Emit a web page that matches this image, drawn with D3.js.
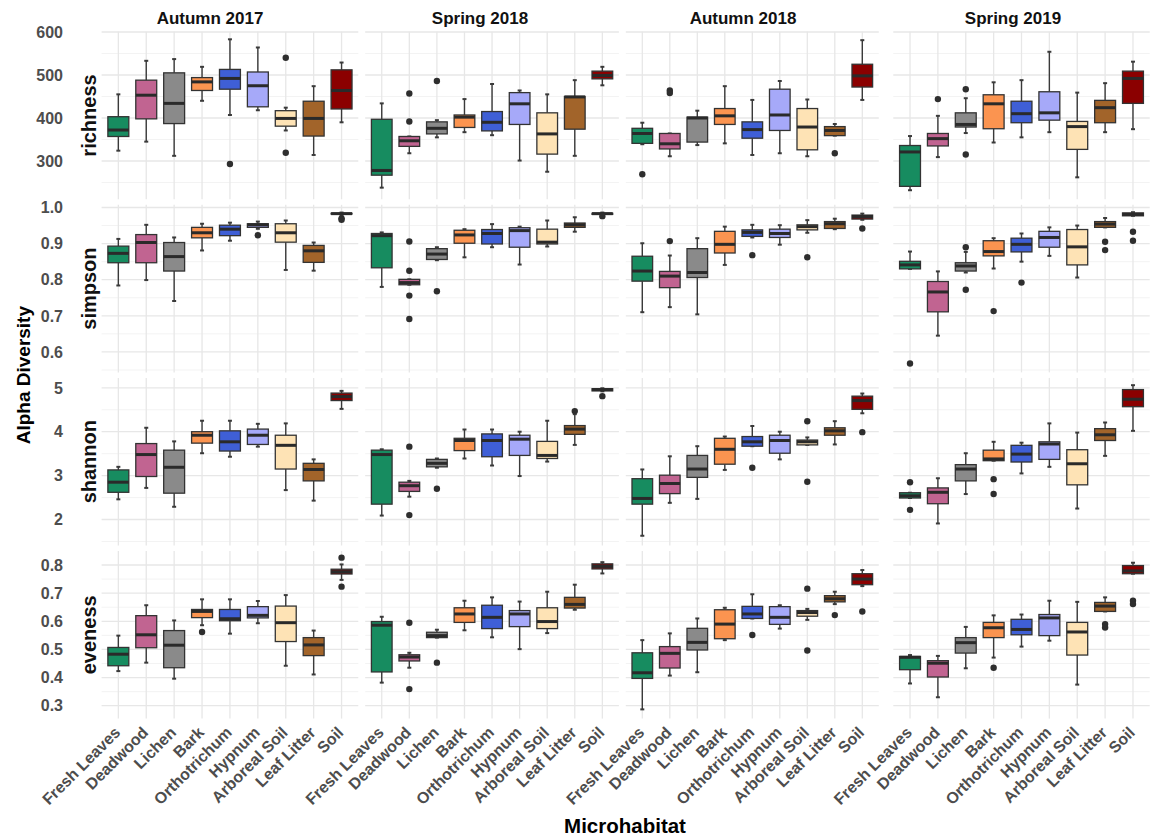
<!DOCTYPE html>
<html>
<head>
<meta charset="utf-8">
<script src="https://cdn.jsdelivr.net/npm/d3@7"></script>
<style>
  body { margin: 0; background: #fff; }
  svg { display: block; }
  text { font-family: "Liberation Sans", Arial, sans-serif; font-weight: bold; }
</style>
</head>
<body>
<svg id="chart" width="1151" height="839"></svg>
<script>
// ---- categories, facets and colours ----
const habitats = ["Fresh Leaves", "Deadwood", "Lichen", "Bark", "Orthotrichum",
                  "Hypnum", "Arboreal Soil", "Leaf Litter", "Soil"];
const seasons = ["Autumn 2017", "Spring 2018", "Autumn 2018", "Spring 2019"];
const metrics = ["richness", "simpson", "shannon", "eveness"];
const habitatColors = ["#178c60", "#c16491", "#8a8a8a", "#fb9450", "#3f5fd6",
                       "#a6a9f9", "#fee3b5", "#a2642a", "#8b0000"];

// ---- y axis breaks per metric ----
const richnessTicks = [300, 400, 500, 600];
const simpsonTicks = [0.6, 0.7, 0.8, 0.9, 1.0];
const shannonTicks = [2, 3, 4, 5];
const evenessTicks = [0.3, 0.4, 0.5, 0.6, 0.7, 0.8];

// ---- y ranges shown per metric ----
const richnessRange = [210.9, 600.7];
const simpsonRange = [0.5432, 1.0075];
const shannonRange = [1.408, 5.226];
const evenessRange = [0.2542, 0.8497];

// ---- box statistics: [lower whisker, Q1, median, Q3, upper whisker, [outliers]] ----
const richnessAut17 = [
  [324, 357, 372, 403, 455, []], [345, 398, 453, 488, 533, []], [312, 387, 434, 505, 537, []],
  [440, 464, 484, 494, 519, []], [407, 467, 492, 513, 583, [293]], [418, 426, 475, 507, 564, []],
  [371, 381, 399, 417, 424, [540, 319]], [314, 358, 399, 439, 474, []], [390, 421, 464, 512, 529, []]];
const richnessSpr18 = [
  [238, 267, 278, 397, 434, []], [318, 334, 347, 357, 357, [457, 392]], [355, 363, 376, 391, 395, [486]],
  [367, 378, 402, 407, 444, []], [360, 370, 390, 415, 479, []], [301, 385, 433, 459, 464, []],
  [275, 316, 363, 412, 455, []], [312, 374, 449, 450, 488, []], [476, 491, 499, 509, 519, []]];
const richnessAut18 = [
  [339, 341, 364, 376, 389, [269]], [311, 328, 340, 364, 364, [464, 458]], [337, 344, 400, 402, 417, []],
  [341, 385, 405, 422, 474, []], [314, 353, 373, 391, 442, []], [318, 371, 407, 467, 486, []],
  [311, 326, 379, 422, 443, []], [359, 359, 371, 380, 386, [318]], [442, 472, 498, 525, 581, []]];
const richnessSpr19 = [
  [232, 241, 321, 336, 358, []], [309, 335, 352, 364, 405, [444]], [365, 379, 385, 412, 446, [467, 315]],
  [343, 375, 433, 454, 483, []], [355, 389, 410, 439, 488, []], [367, 395, 412, 461, 554, []],
  [262, 327, 380, 392, 459, []], [367, 389, 424, 441, 481, []], [374, 434, 492, 509, 531, []]];

const simpsonAut17 = [
  [0.784, 0.847, 0.873, 0.893, 0.913, []], [0.799, 0.847, 0.903, 0.925, 0.952, []],
  [0.741, 0.824, 0.864, 0.903, 0.917, []], [0.881, 0.916, 0.930, 0.945, 0.955, []],
  [0.908, 0.922, 0.940, 0.951, 0.958, []], [0.941, 0.945, 0.952, 0.955, 0.961, [0.923]],
  [0.827, 0.904, 0.930, 0.955, 0.964, []], [0.825, 0.848, 0.880, 0.895, 0.903, []],
  [0.979, 0.982, 0.983, 0.984, 0.986, [0.970, 0.966]]];
const simpsonSpr18 = [
  [0.780, 0.833, 0.922, 0.928, 0.931, []], [0.786, 0.786, 0.792, 0.801, 0.801, [0.906, 0.825, 0.756, 0.691]],
  [0.854, 0.856, 0.871, 0.886, 0.890, [0.768]], [0.862, 0.901, 0.924, 0.937, 0.940, []],
  [0.890, 0.899, 0.928, 0.939, 0.954, []], [0.842, 0.890, 0.936, 0.944, 0.947, []],
  [0.892, 0.899, 0.904, 0.940, 0.964, []], [0.933, 0.945, 0.952, 0.957, 0.973, []],
  [0.979, 0.981, 0.983, 0.984, 0.986, [0.976]]];
const simpsonAut18 = [
  [0.710, 0.796, 0.824, 0.865, 0.901, []], [0.724, 0.778, 0.810, 0.823, 0.867, [0.907]],
  [0.704, 0.806, 0.820, 0.886, 0.915, []], [0.841, 0.874, 0.898, 0.934, 0.947, []],
  [0.917, 0.920, 0.931, 0.938, 0.952, [0.868]], [0.897, 0.917, 0.928, 0.940, 0.951, []],
  [0.930, 0.938, 0.947, 0.952, 0.965, [0.862]], [0.940, 0.942, 0.955, 0.961, 0.969, []],
  [0.966, 0.968, 0.975, 0.979, 0.983, [0.942]]];
const simpsonSpr19 = [
  [0.830, 0.830, 0.841, 0.851, 0.878, [0.568]], [0.645, 0.711, 0.766, 0.795, 0.823, []],
  [0.820, 0.824, 0.838, 0.847, 0.877, [0.890, 0.772]], [0.831, 0.866, 0.878, 0.908, 0.915, [0.713]],
  [0.850, 0.877, 0.898, 0.915, 0.928, [0.792]], [0.866, 0.890, 0.917, 0.934, 0.945, []],
  [0.806, 0.841, 0.891, 0.939, 0.950, []], [0.945, 0.945, 0.954, 0.961, 0.971, [0.905, 0.882]],
  [0.977, 0.977, 0.981, 0.985, 0.987, [0.933, 0.908]]];

const shannonAut17 = [
  [2.46, 2.62, 2.85, 3.13, 3.20, []], [2.72, 2.98, 3.48, 3.73, 4.09, []], [2.29, 2.60, 3.19, 3.58, 3.78, []],
  [3.51, 3.74, 3.92, 4.00, 4.25, []], [3.43, 3.56, 3.77, 4.02, 4.25, []], [3.66, 3.71, 3.92, 4.06, 4.18, []],
  [2.67, 3.15, 3.69, 3.92, 4.19, []], [2.43, 2.88, 3.14, 3.28, 3.37, []], [4.52, 4.71, 4.80, 4.88, 4.93, []]];
const shannonSpr18 = [
  [2.09, 2.35, 3.48, 3.58, 3.60, []], [2.52, 2.64, 2.77, 2.85, 2.88, [3.66, 2.10]],
  [3.18, 3.20, 3.28, 3.37, 3.39, [2.70]], [3.39, 3.57, 3.80, 3.85, 4.05, []],
  [3.23, 3.43, 3.80, 3.95, 4.05, []], [2.99, 3.46, 3.83, 3.92, 4.00, []],
  [3.32, 3.39, 3.46, 3.78, 4.25, []], [3.70, 3.94, 4.06, 4.14, 4.40, [4.47]],
  [4.92, 4.93, 4.96, 4.98, 4.99, [4.81]]];
const shannonAut18 = [
  [1.63, 2.35, 2.48, 2.93, 3.14, []], [2.38, 2.59, 2.82, 3.01, 3.44, []], [2.47, 2.96, 3.15, 3.46, 3.67, []],
  [3.13, 3.26, 3.60, 3.85, 3.89, []], [3.67, 3.67, 3.77, 3.89, 4.13, [3.18]],
  [3.37, 3.51, 3.80, 3.92, 4.00, []], [3.70, 3.70, 3.77, 3.81, 3.87, [4.24, 2.86]],
  [3.71, 3.92, 4.02, 4.09, 4.24, []], [4.42, 4.51, 4.71, 4.81, 4.87, [3.99]]];
const shannonSpr19 = [
  [2.49, 2.49, 2.54, 2.61, 2.61, [2.85, 2.22]], [1.91, 2.36, 2.62, 2.72, 2.94, []],
  [2.58, 2.88, 3.15, 3.25, 3.51, []], [3.34, 3.34, 3.38, 3.58, 3.77, [2.92, 2.58]],
  [3.05, 3.31, 3.49, 3.69, 3.75, []], [3.20, 3.37, 3.72, 3.77, 4.19, []],
  [2.25, 2.79, 3.27, 3.59, 3.98, []], [3.45, 3.80, 3.93, 4.07, 4.21, []],
  [4.02, 4.57, 4.74, 4.96, 5.06, []]];

const evenessAut17 = [
  [0.423, 0.442, 0.483, 0.507, 0.549, []], [0.453, 0.506, 0.552, 0.620, 0.657, []],
  [0.396, 0.435, 0.515, 0.567, 0.603, []], [0.586, 0.613, 0.635, 0.642, 0.678, [0.562]],
  [0.556, 0.602, 0.609, 0.642, 0.678, []], [0.593, 0.612, 0.621, 0.652, 0.672, []],
  [0.442, 0.528, 0.595, 0.654, 0.693, []], [0.411, 0.478, 0.516, 0.542, 0.567, []],
  [0.747, 0.768, 0.776, 0.785, 0.802, [0.826, 0.723]]];
const evenessSpr18 = [
  [0.382, 0.420, 0.586, 0.599, 0.616, []], [0.435, 0.459, 0.473, 0.481, 0.488, [0.595, 0.359]],
  [0.542, 0.542, 0.549, 0.561, 0.570, [0.453]], [0.568, 0.596, 0.626, 0.648, 0.673, []],
  [0.543, 0.574, 0.614, 0.657, 0.685, []], [0.501, 0.581, 0.626, 0.638, 0.670, []],
  [0.558, 0.574, 0.599, 0.648, 0.705, []], [0.641, 0.647, 0.660, 0.685, 0.730, []],
  [0.770, 0.786, 0.795, 0.804, 0.810, []]];
const evenessAut18 = [
  [0.287, 0.397, 0.417, 0.488, 0.533, []], [0.407, 0.434, 0.486, 0.510, 0.557, []],
  [0.419, 0.498, 0.525, 0.575, 0.610, []], [0.533, 0.538, 0.590, 0.641, 0.648, []],
  [0.610, 0.610, 0.626, 0.653, 0.696, [0.551]], [0.574, 0.589, 0.614, 0.652, 0.657, []],
  [0.605, 0.618, 0.631, 0.638, 0.644, [0.716, 0.496]], [0.661, 0.669, 0.680, 0.691, 0.705, [0.622]],
  [0.725, 0.730, 0.750, 0.769, 0.782, [0.635]]];
const evenessSpr19 = [
  [0.379, 0.428, 0.472, 0.475, 0.480, []], [0.330, 0.402, 0.451, 0.460, 0.477, []],
  [0.433, 0.487, 0.524, 0.542, 0.580, []], [0.471, 0.542, 0.577, 0.596, 0.621, [0.435]],
  [0.510, 0.552, 0.571, 0.607, 0.624, []], [0.531, 0.549, 0.612, 0.624, 0.673, []],
  [0.375, 0.480, 0.562, 0.596, 0.669, []], [0.635, 0.635, 0.654, 0.667, 0.685, [0.590, 0.578]],
  [0.769, 0.769, 0.779, 0.798, 0.808, [0.673, 0.661]]];

// rows = metrics, columns = seasons
const panelStats = [
  [richnessAut17, richnessSpr18, richnessAut18, richnessSpr19],
  [simpsonAut17, simpsonSpr18, simpsonAut18, simpsonSpr19],
  [shannonAut17, shannonSpr18, shannonAut18, shannonSpr19],
  [evenessAut17, evenessSpr18, evenessAut18, evenessSpr19]];
const metricTicks = [richnessTicks, simpsonTicks, shannonTicks, evenessTicks];
const metricRanges = [richnessRange, simpsonRange, shannonRange, evenessRange];

// ---- layout ----
const colLeft = [101.6, 365.2, 625.8, 893.3];
const colRight = [358.3, 618.9, 878.8, 1149.7];
const titleX = [210, 480, 743, 1013];
const rowTop = [31.7, 204.8, 377.9, 551.0];
const rowHeight = 167.6;

const svg = d3.select("#chart");
const gridMajor = "#e7e7e7", gridMinor = "#f2f2f2";
const tickColor = "#4d4d4d";

const xScales = seasons.map((s, c) =>
  d3.scalePoint().domain(habitats).range([colLeft[c], colRight[c]]).padding(0.6));
const yScales = metrics.map((m, r) =>
  d3.scaleLinear().domain(metricRanges[r]).range([rowTop[r] + rowHeight, rowTop[r]]));

// minor breaks sit half way between the major ones
function minorBreaks(ticks, dom) {
  const step = ticks[1] - ticks[0];
  const out = [];
  for (let v = ticks[0] - step / 2; v <= dom[1]; v += step) {
    if (v >= dom[0]) out.push(+v.toFixed(6));
  }
  return out;
}

metrics.forEach((m, r) => {
  const y = yScales[r];
  const dom = metricRanges[r];
  const minors = minorBreaks(metricTicks[r], dom);
  seasons.forEach((s, c) => {
    const x = xScales[c];
    const step = x.step();
    const g = svg.append("g");
    // grid
    g.selectAll("line.minor").data(minors).join("line")
      .attr("x1", colLeft[c]).attr("x2", colRight[c])
      .attr("y1", d => y(d)).attr("y2", d => y(d))
      .attr("stroke", gridMinor).attr("stroke-width", 0.9);
    g.selectAll("line.major").data(metricTicks[r]).join("line")
      .attr("x1", colLeft[c]).attr("x2", colRight[c])
      .attr("y1", d => y(d)).attr("y2", d => y(d))
      .attr("stroke", gridMajor).attr("stroke-width", 1.3);
    g.selectAll("line.vgrid").data(habitats).join("line")
      .attr("x1", d => x(d)).attr("x2", d => x(d))
      .attr("y1", rowTop[r]).attr("y2", rowTop[r] + rowHeight)
      .attr("stroke", gridMajor).attr("stroke-width", 1.3);

    const stats = panelStats[r][c];
    const bw = step * 0.75;
    const cap = 2;
    const boxes = g.selectAll("g.box").data(stats).join("g");
    boxes.each(function(d, i) {
      const cx = x(habitats[i]);
      const b = d3.select(this);
      // whiskers
      b.append("line").attr("x1", cx).attr("x2", cx)
        .attr("y1", y(d[3])).attr("y2", y(d[4]))
        .attr("stroke", "#3a3a3a").attr("stroke-width", 1.4);
      b.append("line").attr("x1", cx).attr("x2", cx)
        .attr("y1", y(d[1])).attr("y2", y(d[0]))
        .attr("stroke", "#3a3a3a").attr("stroke-width", 1.4);
      // whisker end ticks
      [d[0], d[4]].forEach(v => {
        b.append("line").attr("x1", cx - cap).attr("x2", cx + cap)
          .attr("y1", y(v)).attr("y2", y(v))
          .attr("stroke", "#3a3a3a").attr("stroke-width", 2);
      });
      // box
      b.append("rect").attr("x", cx - bw / 2).attr("width", bw)
        .attr("y", y(d[3])).attr("height", Math.max(0.5, y(d[1]) - y(d[3])))
        .attr("fill", habitatColors[i]).attr("stroke", "#333").attr("stroke-width", 1.3);
      // median
      b.append("line").attr("x1", cx - bw / 2).attr("x2", cx + bw / 2)
        .attr("y1", y(d[2])).attr("y2", y(d[2]))
        .attr("stroke", "#2a2a2a").attr("stroke-width", 3);
      // outliers
      b.selectAll("circle").data(d[5]).join("circle")
        .attr("cx", cx).attr("cy", v => y(v)).attr("r", 3.2)
        .attr("fill", "#2e2e2e");
    });

    // x tick labels below the bottom row
    if (r === metrics.length - 1) {
      g.selectAll("text.xl").data(habitats).join("text")
        .attr("transform", d => `translate(${x(d) - 5},${rowTop[r] + rowHeight + 7}) rotate(-45)`)
        .attr("text-anchor", "end").attr("dy", "0.7em")
        .attr("font-size", 16).attr("fill", tickColor)
        .text(d => d);
    }
  });

  // y tick labels
  svg.append("g").selectAll("text").data(metricTicks[r]).join("text")
    .attr("x", 63).attr("y", d => y(d)).attr("dy", "0.36em")
    .attr("text-anchor", "end").attr("font-size", 16).attr("fill", tickColor)
    .text(d => r === 1 || r === 3 ? d3.format(".1f")(d) : d);

  // metric strip label
  svg.append("text")
    .attr("transform", `translate(96,${rowTop[r] + rowHeight / 2}) rotate(-90)`)
    .attr("text-anchor", "middle").attr("font-size", 20).attr("fill", "#111")
    .text(m);
});

// season strip titles
svg.append("g").selectAll("text").data(seasons).join("text")
  .attr("x", (d, c) => titleX[c]).attr("y", 24)
  .attr("text-anchor", "middle").attr("font-size", 17).attr("fill", "#111")
  .text(d => d);

// axis titles
svg.append("text")
  .attr("transform", `translate(30,${(rowTop[0] + rowTop[3] + rowHeight) / 2}) rotate(-90)`)
  .attr("text-anchor", "middle").attr("font-size", 19).attr("fill", "#000")
  .text("Alpha Diversity");
svg.append("text")
  .attr("x", 625).attr("y", 833)
  .attr("text-anchor", "middle").attr("font-size", 20.5).attr("fill", "#000")
  .text("Microhabitat");
</script>
</body>
</html>
